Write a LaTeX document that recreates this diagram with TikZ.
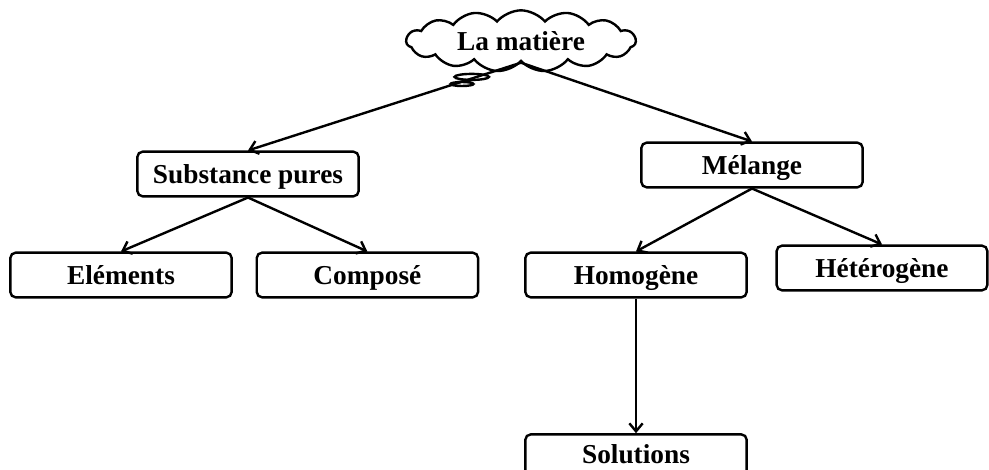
\documentclass[tikz,border=0pt]{standalone}
\usepackage{fontspec}
\setmainfont{Liberation Serif}
\usetikzlibrary{arrows.meta, positioning, shapes.symbols, shapes.callouts}

\begin{document}
\begin{tikzpicture}[x=0.75pt, y=-0.75pt, font=\fontsize{20.5pt}{22pt}\selectfont\bfseries]
    \tikzset{
      boite/.style={rectangle, rounded corners=4pt, draw=black, line width=1.8pt,
                    fill=white, minimum width=166pt, minimum height=33.5pt,
                    text height=16pt, text depth=2pt,
                    align=center, inner sep=1mm},
      nuage/.style={cloud callout, draw=black, line width=1.8pt, fill=white,
                    cloud puffs=15, cloud puff arc=100, cloud ignores aspect,
                    minimum width=172pt, minimum height=46pt, inner sep=0pt},
      f/.style={-{Straight Barb[length=6pt, width=10pt]}, line width=1.8pt}
    }
    \useasboundingbox (0,0) rectangle (989,470);
    \node[nuage, callout absolute pointer={(462,84)}] (mat) at (521,41) {La matière};
    \node[boite] (sub) at (248,174) {Substance pures};
    \node[boite] (mel) at (752,165) {Mélange};
    \node[boite] (ele) at (121,275) {Eléments};
    \node[boite, right=17pt of ele] (com) {Composé};
    \node[boite] (hom) at (636,275) {Homogène};
    \node[boite, minimum width=158pt] (het) at (882,268) {Hétérogène};
    \node[boite, text height=14pt, text depth=4pt, below=101pt of hom] (sol) {Solutions};
    \draw[f] (mat.south) -- (sub.north);
    \draw[f] (mat.south) -- (mel.north);
    \draw[f] (sub.south) -- (ele.north);
    \draw[f] (sub.south) -- (com.north);
    \draw[f] (mel.south) -- (hom.north);
    \draw[f] (mel.south) -- (het.north);
    \draw[f] (hom.south) -- (sol.north);
  \end{tikzpicture}
\end{document}
